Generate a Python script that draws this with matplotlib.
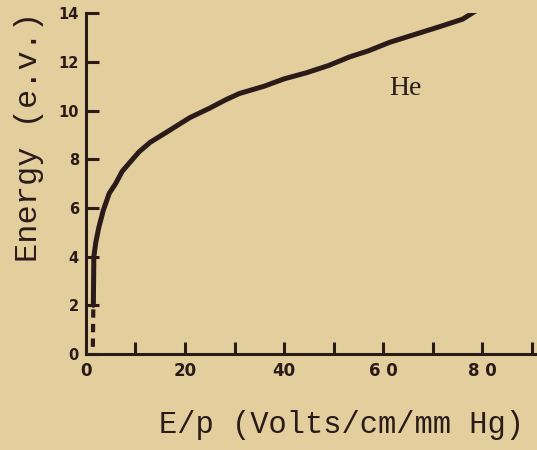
import matplotlib
matplotlib.use("Agg")
import matplotlib.pyplot as plt

ep_solid = [1.5, 1.6, 2.0, 2.6, 3.5, 4.7, 6.0, 7.3, 9.0, 10.7, 13.0, 16.2, 20.9,
            25.0, 28.3, 31.0, 36.0, 40.0, 44.5, 49.0, 53.2, 57.0, 61.3, 66.0,
            71.5, 76.0, 79.1]
energy_solid = [2.0, 4.0, 4.6, 5.2, 5.9, 6.6, 7.0, 7.5, 7.9, 8.3, 8.7, 9.1, 9.7,
                10.1, 10.45, 10.7, 11.0, 11.3, 11.55, 11.85, 12.2, 12.45, 12.8,
                13.1, 13.45, 13.75, 14.15]
ep_dashed = [1.4, 1.45, 1.5]
energy_dashed = [0.3, 1.2, 2.0]

xtick_pos = [0, 20, 40, 60, 80]
xtick_labels = ["0", "20", "40", "6 0", "8 0"]
xtick_minor = [10, 30, 50, 70, 90]
ytick_pos = [0, 2, 4, 6, 8, 10, 12, 14]

bg = "#e3cf9d"
ink = "#2a1b19"

fig = plt.figure(figsize=(5.37, 4.5), dpi=100, facecolor=bg)
ax = fig.add_axes([0.160, 0.213, 0.840, 0.758])
ax.set_facecolor(bg)

ax.plot(ep_solid, energy_solid, color=ink, lw=3.6, solid_capstyle="round")
ax.plot(ep_dashed, energy_dashed, color=ink, lw=3.0, ls=(0, (2, 1.5)))

ax.set_xlim(0, 91)
ax.set_ylim(0, 14)

for s in ["top", "right"]:
    ax.spines[s].set_visible(False)
for s in ["left", "bottom"]:
    ax.spines[s].set_linewidth(2.2)
    ax.spines[s].set_color(ink)

ax.set_xticks(xtick_pos)
ax.set_xticklabels(xtick_labels, fontsize=12, fontweight="bold", color=ink)
ax.set_xticks(xtick_minor, minor=True)
ax.set_yticks(ytick_pos)
ax.set_yticklabels([str(v) for v in ytick_pos], fontsize=10.5,
                   fontweight="bold", color=ink)
ax.tick_params(axis="x", which="both", direction="in", length=9, width=2.2,
               color=ink, pad=6)
ax.tick_params(axis="y", direction="in", length=9, width=2.2, color=ink, pad=5)

ax.text(64.5, 10.9, "He", fontsize=20, family="Liberation Serif", color=ink,
        ha="center", va="center")

fig.text(0.054, 1 - 137 / 450, "Energy (e.v.)", rotation=90, ha="center",
         va="center", fontsize=23, family="Liberation Mono", color=ink)
fig.text(0.296, 1 - 425 / 450, "E/p (Volts/cm/mm Hg)", ha="left",
         va="center", fontsize=22, family="Liberation Mono", color=ink)

fig.savefig("out.png", dpi=100, facecolor=bg)
